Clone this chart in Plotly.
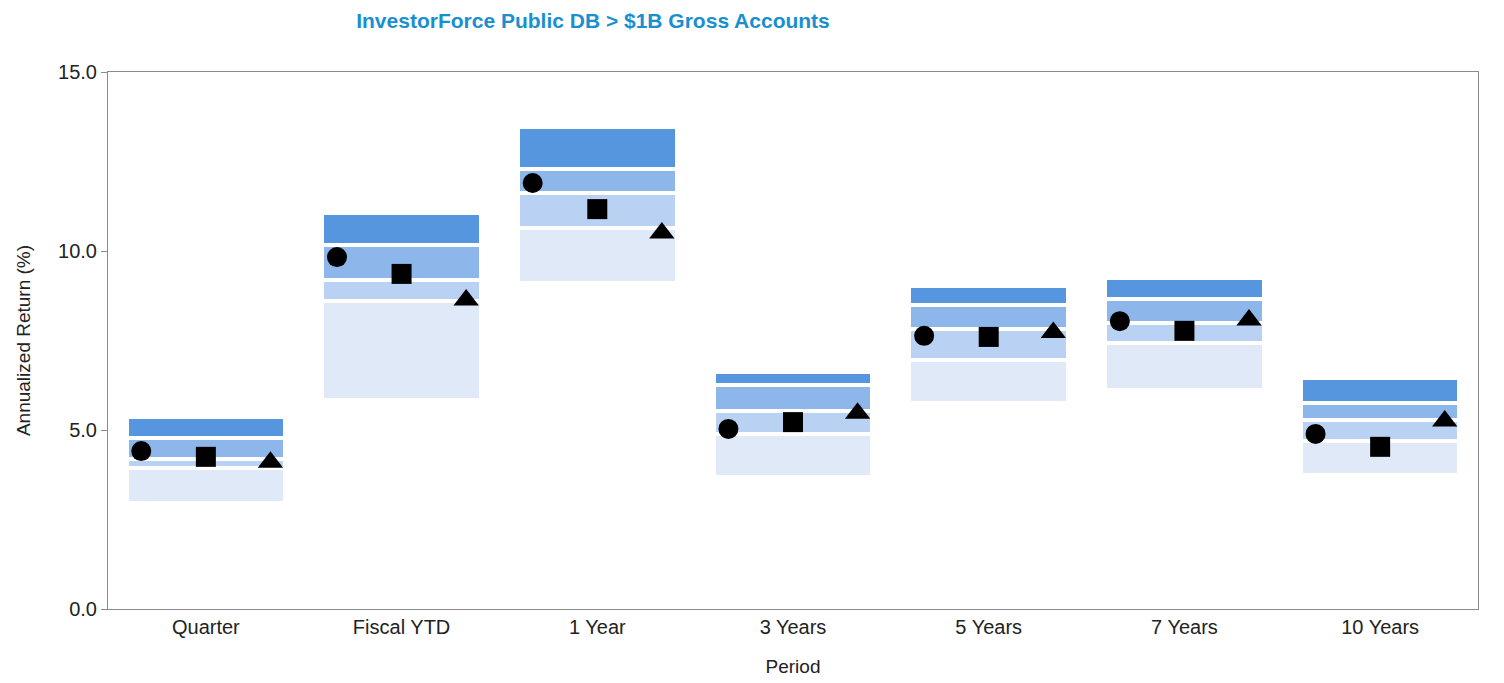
import plotly.graph_objects as go

periods = ["Quarter", "Fiscal YTD", "1 Year", "3 Years", "5 Years", "7 Years", "10 Years"]

# percentile boundaries of the universe (5th, 25th, median, 75th, 95th)
p05 = [5.36, 11.06, 13.46, 6.62, 9.02, 9.25, 6.45]
p25 = [4.77, 10.18, 12.28, 6.26, 8.49, 8.66, 5.75]
p50 = [4.19, 9.20, 11.62, 5.54, 7.82, 7.99, 5.29]
p75 = [3.95, 8.59, 10.63, 4.89, 6.96, 7.44, 4.68]
p95 = [2.95, 5.84, 9.10, 3.69, 5.75, 6.12, 3.74]

# plotted series
circle_vals = [4.41, 9.83, 11.90, 5.03, 7.63, 8.04, 4.89]
square_vals = [4.25, 9.36, 11.17, 5.22, 7.60, 7.77, 4.53]
triangle_vals = [4.10, 8.63, 10.50, 5.47, 7.72, 8.07, 5.25]

band_colors = ["#5596de", "#8db6ea", "#b9d1f2", "#dfe9f8"]

xs = list(range(len(periods)))
fig = go.Figure()

bands = [(p25, p05), (p50, p25), (p75, p50), (p95, p75)]
for (lo, hi), col in zip(bands, band_colors):
    fig.add_trace(go.Bar(
        x=xs, base=lo, y=[h - l for h, l in zip(hi, lo)],
        width=0.81, marker=dict(color=col, line=dict(color="white", width=4)),
        showlegend=False, hoverinfo="skip"))

off = 0.33
for vals, sym, dx in [(circle_vals, "circle", -off), (square_vals, "square", 0), (triangle_vals, "triangle-up", off)]:
    fig.add_trace(go.Scatter(
        x=[x + dx for x in xs], y=vals, mode="markers",
        marker=dict(symbol=sym, size=20 if sym != "triangle-up" else 22, color="black", line=dict(width=0)),
        showlegend=False))

fig.update_layout(
    width=1496, height=675,
    paper_bgcolor="white", plot_bgcolor="white",
    margin=dict(l=100, r=26, t=64, b=74, autoexpand=False),
    barmode="overlay", bargap=0,
    font=dict(family="Liberation Sans, Arial, sans-serif", size=19, color="#222222"),
    title=dict(text="<b>InvestorForce Public DB > $1B Gross Accounts</b>",
               x=585 / 1496, xanchor="center", xref="container",
               y=1 - 13 / 675, yanchor="middle", yref="container",
               font=dict(size=21, color="#1a8fd0")),
    xaxis=dict(range=[-0.5, 6.5], tickvals=xs, ticktext=periods, showgrid=False,
               zeroline=False, showline=True, linecolor="#8a8a8a", linewidth=1, mirror=True,
               ticks="", title=dict(text="Period", font=dict(size=19), standoff=22),
               tickfont=dict(size=20)),
    yaxis=dict(range=[0, 15], tickvals=[0, 5, 10, 15], tickformat=".1f", showgrid=False,
               zeroline=False, showline=True, linecolor="#8a8a8a", linewidth=1, mirror=True,
               ticks="outside", ticklen=6, tickcolor="#8a8a8a",
               title=dict(text="Annualized Return (%)", font=dict(size=19), standoff=22),
               tickfont=dict(size=20)),
)

fig.write_html("out.html")
